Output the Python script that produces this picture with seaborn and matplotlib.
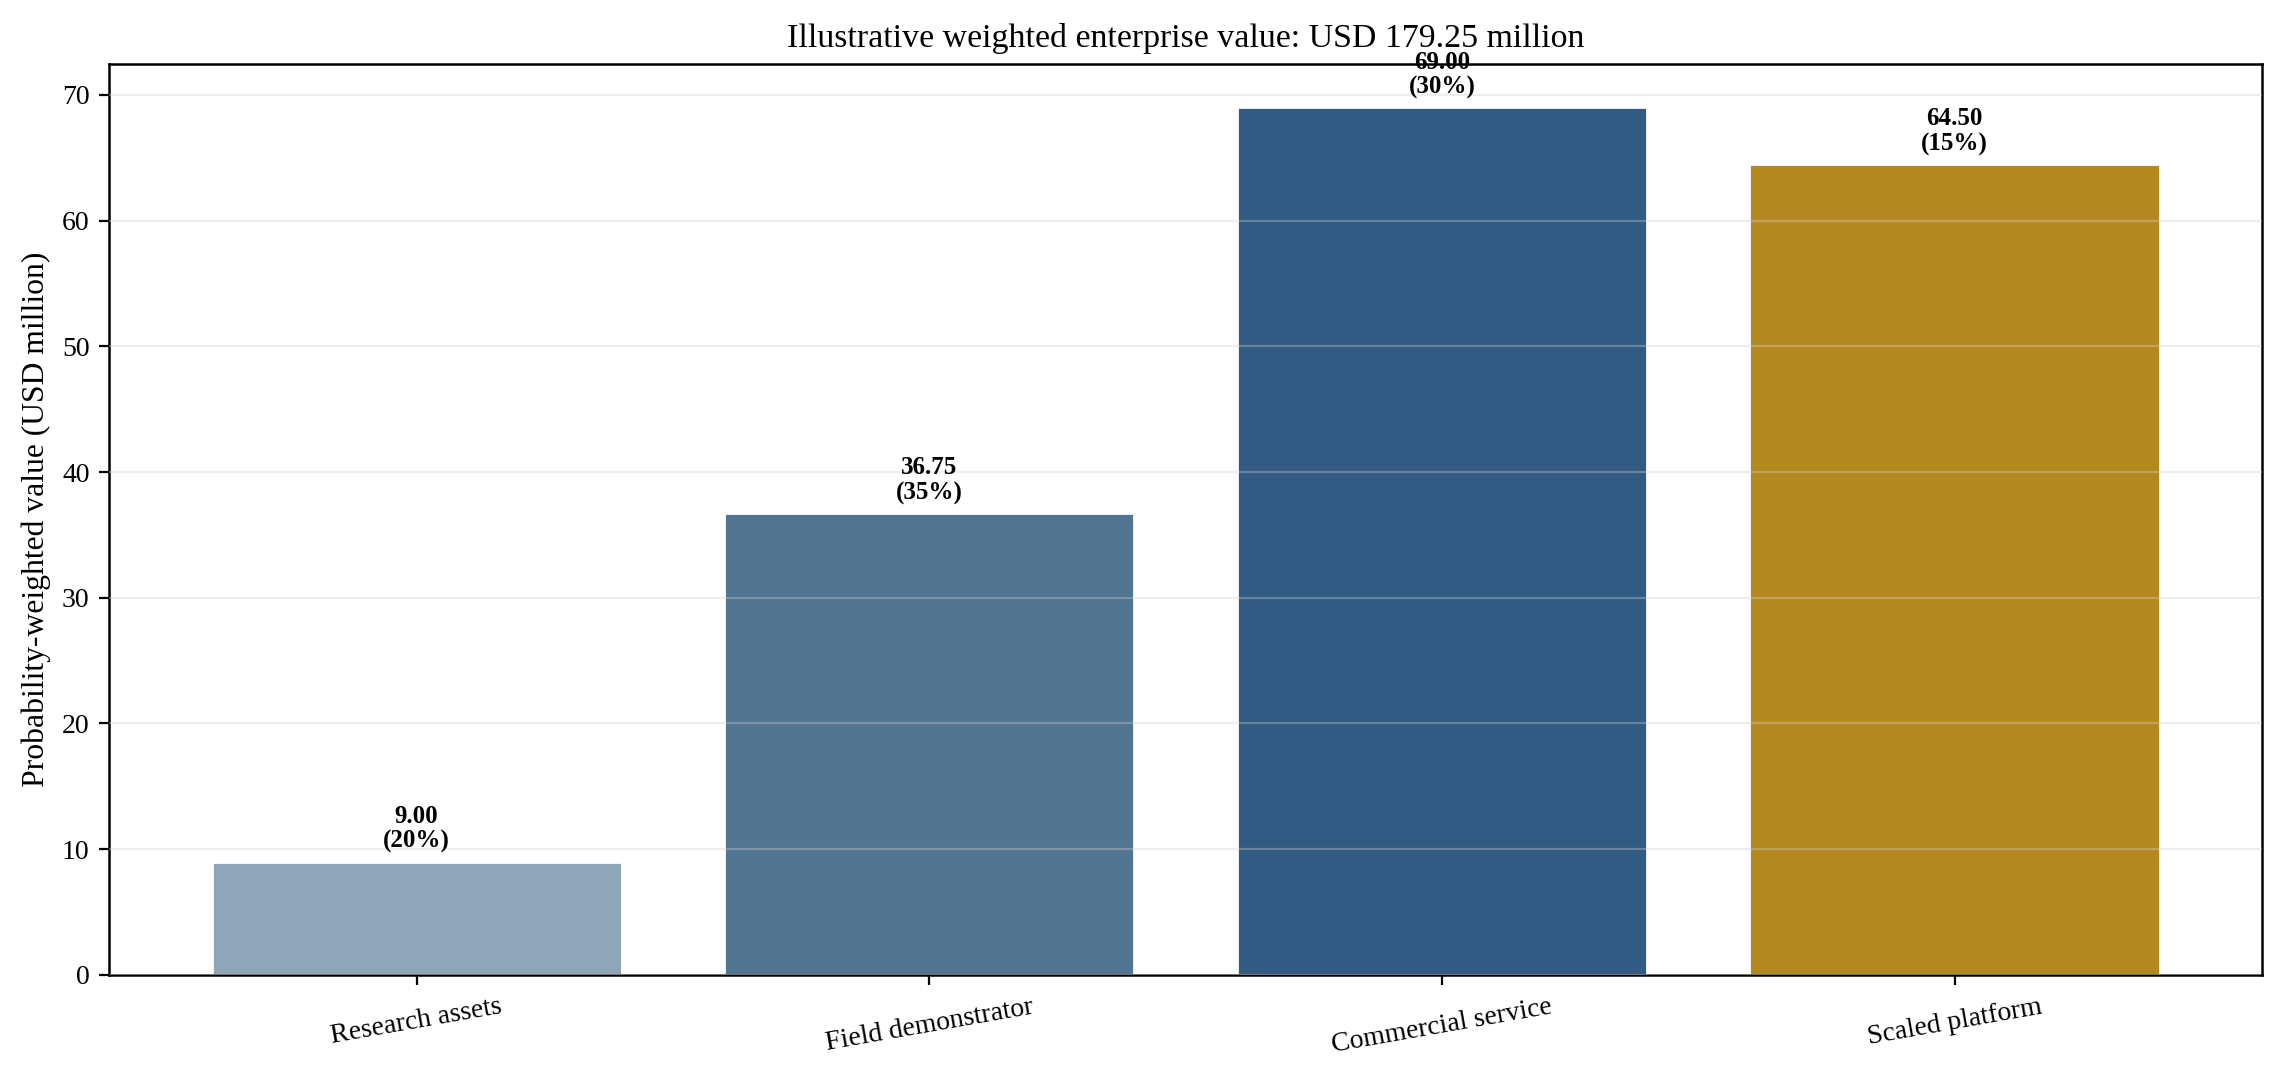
import matplotlib
matplotlib.use("Agg")
import matplotlib.pyplot as plt
import pandas as pd
import seaborn as sns

# Datos del escenario
stages = ["Research assets", "Field demonstrator", "Commercial service", "Scaled platform"]
weighted_values = [9.00, 36.75, 69.00, 64.50]
probabilities = [20, 35, 30, 15]
bar_colors = ["#8fa5b8", "#527591", "#315b82", "#b3891f"]

total = sum(weighted_values)

sns.set_style("ticks")
plt.rcParams["font.family"] = ["Liberation Serif", "DejaVu Serif"]
plt.rcParams["text.color"] = "black"
plt.rcParams["axes.labelcolor"] = "black"

df = pd.DataFrame({"stage": stages, "value": weighted_values, "prob": probabilities})

fig = plt.figure(figsize=(11.425, 5.38), dpi=200)
ax = fig.add_axes([0.0477, 0.0939, 0.9423, 0.8466])

sns.barplot(data=df, x="stage", y="value", hue="stage", palette=bar_colors,
            width=0.8, legend=False, ax=ax, saturation=1)

ax.set_axisbelow(False)
ax.yaxis.grid(True, color="#d0d0d0", alpha=0.35, linewidth=0.8)
ax.set_xlim(-0.6, 3.6)
ax.set_ylim(0, max(weighted_values) * 1.05)

for i, (v, p) in enumerate(zip(weighted_values, probabilities)):
    ax.annotate(f"{v:.2f}\n({p}%)", xy=(i, v), xytext=(0, 3), textcoords="offset points",
                ha="center", va="bottom", fontsize=9, fontweight="bold", linespacing=1.1)

ax.set_title(f"Illustrative weighted enterprise value: USD {total:.2f} million", fontsize=12.2)
ax.set_ylabel("Probability-weighted value (USD million)", fontsize=11.4)
ax.set_xlabel("")
ax.tick_params(axis="both", labelsize=10, colors="black")
plt.setp(ax.get_xticklabels(), rotation=10, ha="center")
for s in ax.spines.values():
    s.set_visible(True)
    s.set_color("black")
    s.set_linewidth(0.9)

fig.savefig("out.png", dpi=200)
